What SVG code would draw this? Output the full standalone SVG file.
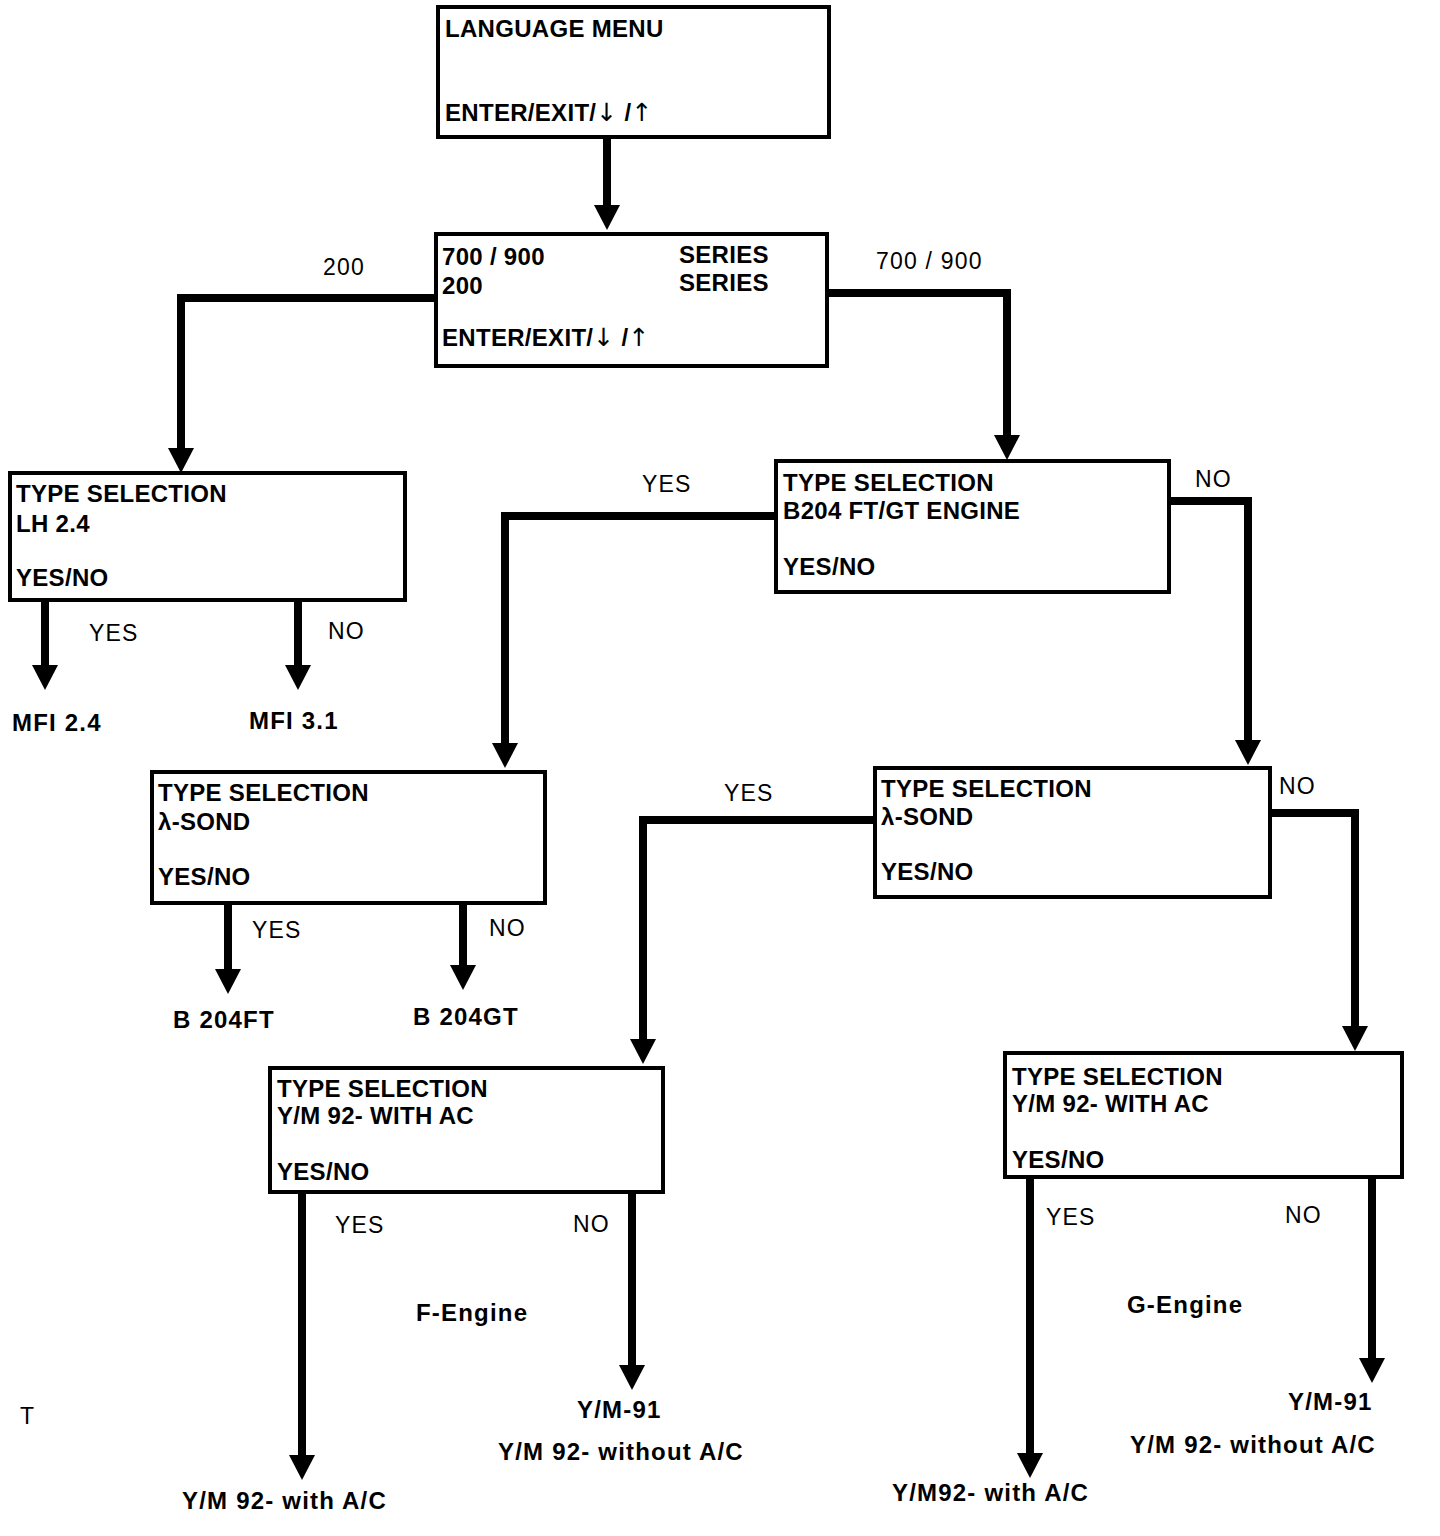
<svg xmlns="http://www.w3.org/2000/svg" width="1440" height="1536" viewBox="0 0 1440 1536">
<defs>
<marker id="ah" viewBox="0 -14 26 28" refX="3" refY="0" markerWidth="26" markerHeight="28" markerUnits="userSpaceOnUse" orient="auto" overflow="visible">
<path d="M0,-13 L25,0 L0,13 Z" fill="#000"/>
</marker>
<style>
.box{fill:#fff;stroke:#000;stroke-width:4}
.bt{font-family:"Liberation Sans",Arial,Helvetica,sans-serif;font-weight:bold;font-size:24px;fill:#000;letter-spacing:0.3px}
.ar{font-family:"DejaVu Sans",sans-serif;font-weight:normal;font-size:25px;fill:#000}
.lb{font-family:"Liberation Sans",Arial,Helvetica,sans-serif;font-size:23px;fill:#000;letter-spacing:1.2px}
.ob{font-family:"Liberation Sans",Arial,Helvetica,sans-serif;font-weight:bold;font-size:24px;fill:#000;letter-spacing:1.2px}
.cn{fill:none;stroke:#000;stroke-width:8;stroke-linejoin:miter;marker-end:url(#ah)}
</style>
</defs>
<rect width="1440" height="1536" fill="#fff"/>

<g id="connectors">
<path class="cn" d="M607,139 V208"/>
<path class="cn" d="M436,298 H181 V451"/>
<path class="cn" d="M827,293 H1007 V438"/>
<path class="cn" d="M45,601 V668"/>
<path class="cn" d="M298,601 V668"/>
<path class="cn" d="M776,516 H505 V746"/>
<path class="cn" d="M1169,501 H1248 V743"/>
<path class="cn" d="M228,903 V972"/>
<path class="cn" d="M463,903 V968"/>
<path class="cn" d="M875,820 H643 V1042"/>
<path class="cn" d="M1270,813 H1355 V1029"/>
<path class="cn" d="M302,1192 V1458"/>
<path class="cn" d="M632,1192 V1368"/>
<path class="cn" d="M1030,1177 V1456"/>
<path class="cn" d="M1372,1177 V1361"/>
</g>

<g id="language-menu">
<rect class="box" x="438" y="7" width="391" height="130"/>
<text class="bt" x="445" y="37">LANGUAGE MENU</text>
<text class="bt" x="445" y="121">ENTER/EXIT/<tspan class="ar">↓</tspan> /<tspan class="ar">↑</tspan></text>
</g>

<g id="series">
<rect class="box" x="436" y="234" width="391" height="132"/>
<text class="bt" x="442" y="265">700 / 900</text>
<text class="bt" x="679" y="263">SERIES</text>
<text class="bt" x="442" y="294">200</text>
<text class="bt" x="679" y="291">SERIES</text>
<text class="bt" x="442" y="346">ENTER/EXIT/<tspan class="ar">↓</tspan> /<tspan class="ar">↑</tspan></text>
</g>

<g id="lh24">
<rect class="box" x="10" y="473" width="395" height="127"/>
<text class="bt" x="16" y="502">TYPE SELECTION</text>
<text class="bt" x="16" y="532">LH 2.4</text>
<text class="bt" x="16" y="586">YES/NO</text>
</g>

<g id="b204">
<rect class="box" x="776" y="461" width="393" height="131"/>
<text class="bt" x="783" y="491">TYPE SELECTION</text>
<text class="bt" x="783" y="519">B204 FT/GT ENGINE</text>
<text class="bt" x="783" y="575">YES/NO</text>
</g>

<g id="lsond-left">
<rect class="box" x="152" y="772" width="393" height="131"/>
<text class="bt" x="158" y="801">TYPE SELECTION</text>
<text class="bt" x="158" y="830">λ-SOND</text>
<text class="bt" x="158" y="885">YES/NO</text>
</g>

<g id="lsond-right">
<rect class="box" x="875" y="768" width="395" height="129"/>
<text class="bt" x="881" y="797">TYPE SELECTION</text>
<text class="bt" x="881" y="825">λ-SOND</text>
<text class="bt" x="881" y="880">YES/NO</text>
</g>

<g id="ym-left">
<rect class="box" x="270" y="1068" width="393" height="124"/>
<text class="bt" x="277" y="1097">TYPE SELECTION</text>
<text class="bt" x="277" y="1124">Y/M 92- WITH AC</text>
<text class="bt" x="277" y="1180">YES/NO</text>
</g>

<g id="ym-right">
<rect class="box" x="1005" y="1053" width="397" height="124"/>
<text class="bt" x="1012" y="1085">TYPE SELECTION</text>
<text class="bt" x="1012" y="1112">Y/M 92- WITH AC</text>
<text class="bt" x="1012" y="1168">YES/NO</text>
</g>

<g id="labels">
<text class="lb" x="323" y="275">200</text>
<text class="lb" x="876" y="269">700 / 900</text>
<text class="lb" x="642" y="492">YES</text>
<text class="lb" x="1195" y="487">NO</text>
<text class="lb" x="89" y="641">YES</text>
<text class="lb" x="328" y="639">NO</text>
<text class="lb" x="252" y="938">YES</text>
<text class="lb" x="489" y="936">NO</text>
<text class="lb" x="724" y="801">YES</text>
<text class="lb" x="1279" y="794">NO</text>
<text class="lb" x="335" y="1233">YES</text>
<text class="lb" x="573" y="1232">NO</text>
<text class="lb" x="1046" y="1225">YES</text>
<text class="lb" x="1285" y="1223">NO</text>
<text class="lb" x="20" y="1424">T</text>
</g>

<g id="outcomes">
<text class="ob" x="12" y="731">MFI 2.4</text>
<text class="ob" x="249" y="729">MFI 3.1</text>
<text class="ob" x="173" y="1028">B 204FT</text>
<text class="ob" x="413" y="1025">B 204GT</text>
<text class="ob" x="416" y="1321">F-Engine</text>
<text class="ob" x="577" y="1418">Y/M-91</text>
<text class="ob" x="498" y="1460">Y/M 92- without A/C</text>
<text class="ob" x="182" y="1509">Y/M 92- with A/C</text>
<text class="ob" x="1127" y="1313">G-Engine</text>
<text class="ob" x="1288" y="1410">Y/M-91</text>
<text class="ob" x="1130" y="1453">Y/M 92- without A/C</text>
<text class="ob" x="892" y="1501">Y/M92- with A/C</text>
</g>
</svg>
